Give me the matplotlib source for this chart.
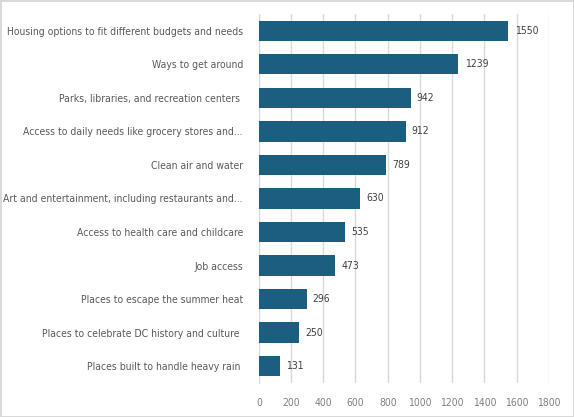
import matplotlib.pyplot as plt

categories = [
    "Housing options to fit different budgets and needs",
    "Ways to get around",
    "Parks, libraries, and recreation centers ",
    "Access to daily needs like grocery stores and...",
    "Clean air and water",
    "Art and entertainment, including restaurants and...",
    "Access to health care and childcare",
    "Job access",
    "Places to escape the summer heat",
    "Places to celebrate DC history and culture ",
    "Places built to handle heavy rain ",
]
values = [1550, 1239, 942, 912, 789, 630, 535, 473, 296, 250, 131]
xticks = [0, 200, 400, 600, 800, 1000, 1200, 1400, 1600, 1800]

plt.rcParams["font.family"] = ["DejaVu Sans"]
plt.rcParams["font.stretch"] = "condensed"
bar_color = "#1b5e80"

fig = plt.figure(figsize=(5.74, 4.17), dpi=100)
fig.patch.set_edgecolor("#d9d9d9")
fig.patch.set_linewidth(2)
ax = fig.add_axes([0.451, 0.082, 0.505, 0.884])

y = list(range(len(categories)))[::-1]
ax.barh(y, values, height=0.6, color=bar_color, zorder=3)
for yi, v in zip(y, values):
    ax.text(v + 38, yi, str(v), va="center", ha="left", fontsize=7.5, color="#404040")

ax.set_yticks(y)
ax.set_yticklabels(categories, fontsize=7.5, color="#595959")
ax.set_xticks(xticks)
ax.set_xticklabels([str(t) for t in xticks], fontsize=7.5, color="#7f7f7f")
ax.set_xlim(0, 1800)
ax.set_ylim(-0.5, len(categories) - 0.5)
ax.grid(axis="x", color="#d9d9d9", linewidth=1, zorder=0)
for s in ["top", "right", "bottom"]:
    ax.spines[s].set_visible(False)
ax.spines["left"].set_color("#d9d9d9")
ax.tick_params(axis="both", length=0)
ax.tick_params(axis="y", pad=11.5)
ax.tick_params(axis="x", pad=11)

plt.savefig("out.png", dpi=100)
